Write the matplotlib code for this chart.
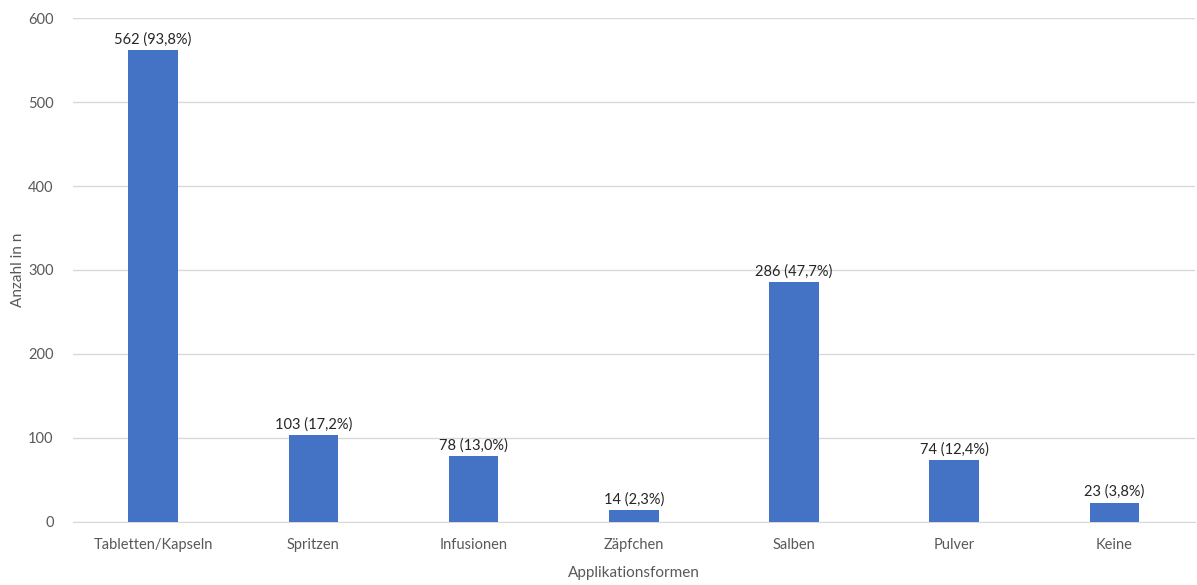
import numpy as np
import matplotlib.pyplot as plt

plt.rcParams['font.family'] = ['Lato', 'DejaVu Sans']

# Applikationsformen und Häufigkeiten
kategorien = ['Tabletten/Kapseln', 'Spritzen', 'Infusionen', 'Zäpfchen',
              'Salben', 'Pulver', 'Keine']
anzahl = [562, 103, 78, 14, 286, 74, 23]
prozent = ['93,8', '17,2', '13,0', '2,3', '47,7', '12,4', '3,8']

fig = plt.figure(figsize=(11.97, 5.85), dpi=100)
ax = fig.add_axes([0.061, 0.108, 0.937, 0.861])

x = np.arange(len(kategorien))
bars = ax.bar(x, anzahl, width=0.31, color='#4472C4', zorder=3)

for b, n, p in zip(bars, anzahl, prozent):
    ax.text(b.get_x() + b.get_width() / 2, n + 4, f'{n} ({p}%)',
            ha='center', va='bottom', fontsize=10.5, color='#262626')

ax.set_xlim(-0.5, len(kategorien) - 0.5)
ax.set_ylim(0, 600)
ax.set_yticks(range(0, 601, 100))
ax.set_xticks(x)
ax.set_xticklabels(kategorien)
ax.tick_params(axis='both', length=0, labelsize=10.5, colors='#595959')
ax.tick_params(axis='x', pad=12)
ax.tick_params(axis='y', pad=14)
ax.grid(axis='y', color='#D9D9D9', linewidth=1, zorder=0)
for s in ['top', 'right', 'left']:
    ax.spines[s].set_visible(False)
ax.spines['bottom'].set_color('#D9D9D9')

ax.set_xlabel('Applikationsformen', fontsize=11, color='#595959', labelpad=10)
# y-Achsentitel direkt am linken Rand platzieren
fig.text(0.015, 0.108 + 0.861 / 2, 'Anzahl in n', rotation=90, ha='center',
         va='center', fontsize=11, color='#595959')

plt.savefig('out.png', dpi=100)
